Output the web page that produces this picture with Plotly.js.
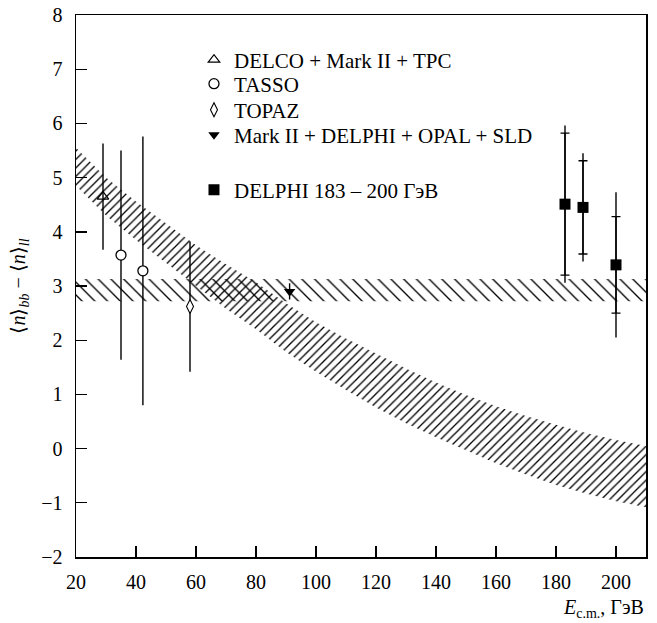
<!DOCTYPE html>
<html>
<head>
<meta charset="utf-8">
<script src="https://cdn.plot.ly/plotly-3.0.1.min.js"></script>
<style>html,body{margin:0;padding:0;background:#fff;}#chart{width:657px;height:623px;}</style>
</head>
<body>
<div id="chart"></div>
<script>
// ---- data ----
const delcoX = [29];    const delcoY = [4.65];  const delcoErr = [0.98];
const tassoX = [35, 42.3]; const tassoY = [3.57, 3.28]; const tassoErr = [1.93, 2.48];
const topazX = [58];    const topazY = [2.62];  const topazErr = [1.2];
const lepX = [91.2];    const lepY = [2.9];     const lepErr = [0.15];
const delphiX = [183, 189, 200];
const delphiY = [4.51, 4.45, 3.39];
const delphiStatErr = [1.31, 0.86, 0.89];
const delphiTotErr = [1.45, 1.0, 1.34];

// horizontal band
const hbandX = [20, 210];
const hbandTop = [3.13, 3.13];
const hbandBot = [2.72, 2.72];

// falling band
const cbandX   = [20, 30, 40, 50, 60, 70, 80, 90, 100, 110, 120, 130, 140, 150, 160, 170, 180, 190, 200, 210];
const cbandTop = [5.55, 5.0, 4.56, 4.15, 3.75, 3.40, 3.07, 2.68, 2.33, 2.03, 1.75, 1.48, 1.22, 0.99, 0.78, 0.60, 0.44, 0.29, 0.16, 0.05];
const cbandBot = [4.85, 4.3, 3.85, 3.42, 3.0, 2.58, 2.2, 1.78, 1.42, 1.08, 0.76, 0.47, 0.21, -0.03, -0.27, -0.48, -0.67, -0.83, -0.97, -1.08];

// legend labels
const labels = ['DELCO + Mark II + TPC', 'TASSO', 'TOPAZ', 'Mark II + DELPHI + OPAL + SLD', 'DELPHI 183 – 200 ГэВ'];

const FONT = 'Liberation Serif';

function polygon(x, top, bot) {
  return {
    x: x.concat(x.slice().reverse()),
    y: top.concat(bot.slice().reverse())
  };
}
const hp = polygon(hbandX, hbandTop, hbandBot);
const cp = polygon(cbandX, cbandTop, cbandBot);

const errStyle = (arr, w) => ({type: 'data', array: arr, visible: true, color: 'black', thickness: 1.4, width: w});

const traces = [
  {x: hp.x, y: hp.y, mode: 'lines', fill: 'toself', line: {width: 0, color: 'rgba(0,0,0,0)'},
   fillcolor: 'rgba(0,0,0,0)', fillpattern: {shape: '\\', size: 9, solidity: 0.15, fgcolor: 'black', bgcolor: 'rgba(0,0,0,0)'},
   showlegend: false, hoverinfo: 'skip'},
  {x: cp.x, y: cp.y, mode: 'lines', fill: 'toself', line: {width: 0, color: 'rgba(0,0,0,0)'},
   fillcolor: 'rgba(0,0,0,0)', fillpattern: {shape: '/', size: 6, solidity: 0.22, fgcolor: 'black', bgcolor: 'rgba(0,0,0,0)'},
   showlegend: false, hoverinfo: 'skip'},
  {x: delcoX, y: delcoY, name: labels[0], legend: 'legend', mode: 'markers',
   marker: {symbol: 'triangle-up-open', size: 10, color: 'black', line: {width: 1.2, color: 'black'}},
   error_y: errStyle(delcoErr, 0)},
  {x: tassoX, y: tassoY, name: labels[1], legend: 'legend2', mode: 'markers',
   marker: {symbol: 'circle', size: 10, color: 'white', line: {width: 1.3, color: 'black'}},
   error_y: errStyle(tassoErr, 0)},
  {x: topazX, y: topazY, name: labels[2], legend: 'legend3', mode: 'markers',
   marker: {symbol: 'diamond-tall', size: 10, color: 'white', line: {width: 1.1, color: 'black'}},
   error_y: errStyle(topazErr, 0)},
  {x: lepX, y: lepY, name: labels[3], legend: 'legend4', mode: 'markers',
   marker: {symbol: 'triangle-down', size: 10, color: 'black'},
   error_y: errStyle(lepErr, 0)},
  {x: delphiX, y: delphiY, showlegend: false, mode: 'markers', hoverinfo: 'skip',
   marker: {size: 1, color: 'rgba(0,0,0,0)'},
   error_y: errStyle(delphiStatErr, 4.5)},
  {x: delphiX, y: delphiY, name: labels[4], legend: 'legend5', mode: 'markers',
   marker: {symbol: 'square', size: 11, color: 'black'},
   error_y: errStyle(delphiTotErr, 0)}
];

const axisCommon = {
  showgrid: false, zeroline: false, showline: true, mirror: true,
  linecolor: 'black', linewidth: 1.5, ticks: 'inside', ticklen: 11, tickwidth: 1.4, tickcolor: 'black',
  tickfont: {family: FONT, size: 20, color: 'black'}
};

const legFont = {family: FONT, size: 21, color: 'black'};
const legRowsPx = [60, 84, 110, 135, 190];
const legY = legRowsPx.map(p => (557 - p) / 542);
const mkLeg = (y) => ({x: 0.207, y: y, xanchor: 'left', yanchor: 'middle', bgcolor: 'rgba(0,0,0,0)', borderwidth: 0, font: legFont});

const layout = {
  width: 657, height: 623,
  margin: {l: 76, r: 11, t: 15, b: 66},
  paper_bgcolor: 'white', plot_bgcolor: 'white',
  font: {family: FONT, color: 'black'},
  xaxis: Object.assign({}, axisCommon, {range: [20, 210], tickvals: [20,40,60,80,100,120,140,160,180,200], ticklabelstandoff: 6}),
  yaxis: Object.assign({}, axisCommon, {range: [-2, 8], dtick: 1, tick0: 0, ticklabelstandoff: 8,
    title: {text: '⟨<i>n</i>⟩<sub><i>bb</i></sub> − ⟨<i>n</i>⟩<sub><i>ll</i></sub>', font: {family: FONT, size: 20, color: 'black'}, standoff: 10}}),
  showlegend: true,
  legend: mkLeg(legY[0]),
  legend2: mkLeg(legY[1]),
  legend3: mkLeg(legY[2]),
  legend4: mkLeg(legY[3]),
  legend5: mkLeg(legY[4]),
  annotations: [{
    xref: 'paper', yref: 'paper', x: 1, y: -0.095, xanchor: 'right', yanchor: 'middle', showarrow: false,
    text: '<i>E</i><sub>c.m.</sub>, ГэВ', font: {family: FONT, size: 20, color: 'black'}
  }]
};

Plotly.newPlot('chart', traces, layout, {staticPlot: true, displayModeBar: false});
</script>
</body>
</html>
